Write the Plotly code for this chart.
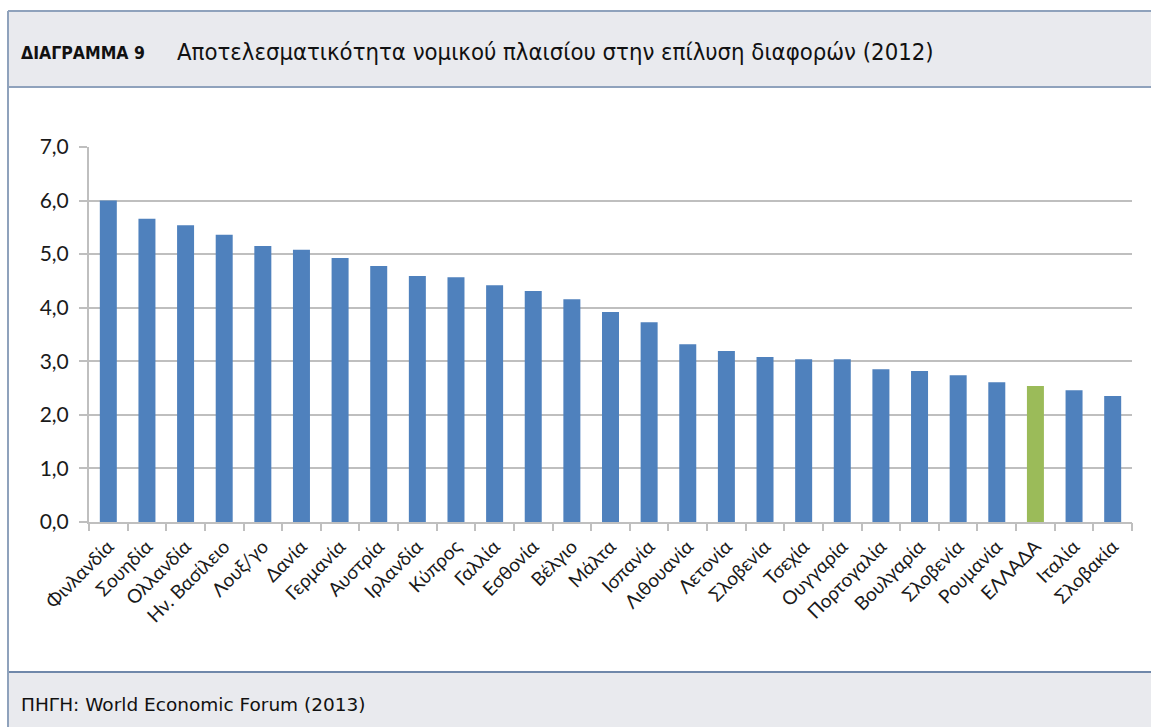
import plotly.graph_objects as go

countries = ["Φινλανδία", "Σουηδία", "Ολλανδία", "Ην. Βασίλειο", "Λουξ/γο", "Δανία",
             "Γερμανία", "Αυστρία", "Ιρλανδία", "Κύπρος", "Γαλλία", "Εσθονία",
             "Βέλγιο", "Μάλτα", "Ισπανία", "Λιθουανία", "Λετονία", "Σλοβενία",
             "Τσεχία", "Ουγγαρία", "Πορτογαλία", "Βουλγαρία", "Σλοβενία", "Ρουμανία",
             "ΕΛΛΑΔΑ", "Ιταλία", "Σλοβακία"]
values = [6.00, 5.66, 5.54, 5.36, 5.15, 5.08, 4.93, 4.78, 4.59, 4.57, 4.42, 4.31,
          4.16, 3.92, 3.73, 3.32, 3.19, 3.08, 3.04, 3.04, 2.85, 2.82, 2.74, 2.61,
          2.54, 2.46, 2.35]
y_ticks = [0, 1, 2, 3, 4, 5, 6, 7]
y_tick_labels = ["0,0", "1,0", "2,0", "3,0", "4,0", "5,0", "6,0", "7,0"]
highlight = "ΕΛΛΑΔΑ"

title_label = "ΔΙΑΓΡΑΜΜΑ 9"
title_text = "Αποτελεσματικότητα νομικού πλαισίου στην επίλυση διαφορών (2012)"
source_text = "ΠΗΓΗ: World Economic Forum (2013)"

W, H = 1151, 727
BLUE = "#4F81BD"
GREEN = "#9BBB59"
GRID = "#BFBFBF"
BAND = "#E9EAEE"
EDGE = "#8FA2BC"
COND = "'DejaVu Sans Condensed', 'Liberation Sans Narrow', 'DejaVu Sans', sans-serif"

xs = list(range(len(countries)))
colors = [GREEN if c == highlight else BLUE for c in countries]

fig = go.Figure()
fig.add_trace(go.Bar(x=xs, y=values, marker=dict(color=colors, line=dict(width=0)),
                     showlegend=False, hoverinfo="skip"))
# invisible trace on the overlay axis for boundary tick marks
fig.add_trace(go.Scatter(x=[-0.5, len(countries) - 0.5], y=[0, 0], xaxis="x2",
                         mode="markers", marker=dict(opacity=0), showlegend=False,
                         hoverinfo="skip"))


def py(px):
    return 1 - px / H


def pxx(px):
    return px / W


x0, x1 = pxx(89), pxx(1132)
y_bottom, y_top = py(522), py(147)

fig.update_layout(
    width=W, height=H, autosize=False,
    margin=dict(l=0, r=0, t=0, b=0, pad=0),
    paper_bgcolor="white", plot_bgcolor="white",
    bargap=0.56,
    font=dict(family="Lato, 'Open Sans', sans-serif", color="#1a1a1a"),
    xaxis=dict(domain=[x0, x1], range=[-0.5, len(countries) - 0.5], automargin=False,
               tickmode="array", tickvals=xs, ticktext=countries, tickangle=-45,
               tickfont=dict(size=19, family="Lato, sans-serif", color="#1a1a1a"),
               ticks="", showgrid=False, zeroline=False, ticklabelstandoff=4,
               showline=True, linecolor=GRID, linewidth=2, fixedrange=True),
    xaxis2=dict(domain=[x0, x1], range=[-0.5, len(countries) - 0.5], overlaying="x",
                anchor="y", tickmode="array", automargin=False,
                tickvals=[i - 0.5 for i in range(len(countries) + 1)],
                showticklabels=False, ticks="outside", ticklen=8, tickwidth=2,
                tickcolor=GRID, showgrid=False, zeroline=False, showline=False,
                side="bottom"),
    yaxis=dict(domain=[y_bottom, y_top], range=[0, 7], tickmode="array", automargin=False,
               tickvals=y_ticks, ticktext=y_tick_labels, ticklabelstandoff=6,
               tickfont=dict(size=21, family="Lato, sans-serif", color="#1a1a1a"),
               ticks="outside", ticklen=8, tickwidth=2, tickcolor=GRID,
               showgrid=True, gridcolor=GRID, gridwidth=2, zeroline=False,
               showline=True, linecolor=GRID, linewidth=2, fixedrange=True),
)

shapes = [
    dict(type="rect", xref="paper", yref="paper", x0=pxx(8), x1=1.0,
         y0=py(87), y1=py(11), fillcolor=BAND, line=dict(width=0), layer="below"),
    dict(type="rect", xref="paper", yref="paper", x0=pxx(8), x1=1.0,
         y0=0, y1=py(672), fillcolor=BAND, line=dict(width=0), layer="below"),
    dict(type="line", xref="paper", yref="paper", x0=pxx(8), x1=1.0,
         y0=py(11), y1=py(11), line=dict(color=EDGE, width=2)),
    dict(type="line", xref="paper", yref="paper", x0=pxx(8), x1=1.0,
         y0=py(87), y1=py(87), line=dict(color=EDGE, width=2)),
    dict(type="line", xref="paper", yref="paper", x0=pxx(8), x1=1.0,
         y0=py(672), y1=py(672), line=dict(color="#7088AA", width=2)),
    dict(type="line", xref="paper", yref="paper", x0=pxx(8), x1=pxx(8),
         y0=0, y1=py(11), line=dict(color=EDGE, width=2)),
]
fig.update_layout(shapes=shapes)

fig.add_annotation(xref="paper", yref="paper", x=pxx(19), y=py(53), xanchor="left",
                   yanchor="middle", showarrow=False,
                   text="<b>" + title_label + "</b>",
                   font=dict(size=17.5, family=COND, color="#111111"))
fig.add_annotation(xref="paper", yref="paper", x=pxx(175), y=py(52), xanchor="left",
                   yanchor="middle", showarrow=False, text=title_text,
                   font=dict(size=23.7, family=COND, color="#111111"))
fig.add_annotation(xref="paper", yref="paper", x=pxx(19), y=py(704), xanchor="left",
                   yanchor="middle", showarrow=False, text=source_text,
                   font=dict(size=18.5, family="'DejaVu Sans', sans-serif", color="#111111"))

fig.write_html("out.html", config={"displayModeBar": False, "staticPlot": True},
               post_script="document.body.style.margin='0';")
